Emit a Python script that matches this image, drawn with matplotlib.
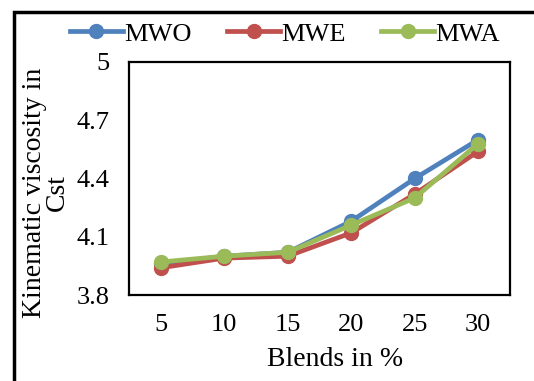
import numpy as np
import matplotlib
matplotlib.use('Agg')
import matplotlib.pyplot as plt
import matplotlib.patches as mpatches

# ── Data ───────────────────────────────────────────────────────────────────
blends = ['5', '10', '15', '20', '25', '30']
mwo = [3.96, 4.00, 4.02, 4.18, 4.40, 4.60]
mwe = [3.94, 3.99, 4.00, 4.12, 4.32, 4.54]
mwa = [3.97, 4.00, 4.02, 4.16, 4.30, 4.58]
y_ticks = [3.8, 4.1, 4.4, 4.7, 5.0]
y_tick_labels = ['3.8', '4.1', '4.4', '4.7', '5']

plt.rcParams['font.family'] = ['Liberation Serif', 'DejaVu Serif']

fig = plt.figure(figsize=(5.34, 3.81), dpi=100)
fig.patch.set_facecolor('white')
ax = fig.add_axes([0.2416, 0.2257, 0.7134, 0.6116])

x = np.arange(len(blends))
series = [('MWO', mwo, '#4F81BD'), ('MWE', mwe, '#C0504D'), ('MWA', mwa, '#9BBB59')]
for name, vals, col in series:
    ax.plot(x, vals, color=col, lw=3.4, marker='o', markersize=10,
            markeredgecolor=col, label=name)

ax.set_xlim(-0.5, len(blends) - 0.5)
ax.set_ylim(3.8, 5.0)
ax.set_xticks(x)
ax.set_xticklabels(blends)
ax.set_yticks(y_ticks)
ax.set_yticklabels(y_tick_labels)
ax.tick_params(axis='both', length=0, labelsize=19)
ax.tick_params(axis='x', pad=14)
ax.tick_params(axis='y', pad=14)
for s in ax.spines.values():
    s.set_linewidth(1.6)
    s.set_color('black')

fig.text(335 / 534, 1 - 360 / 381, 'Blends in %', ha='center', va='center', fontsize=20)
fig.text(46 / 534, 1 - 193 / 381, 'Kinematic viscosity in\nCst', ha='center', va='center',
         rotation=90, fontsize=20, linespacing=0.85)

fig.legend(loc='center', bbox_to_anchor=(285 / 534, 1 - 34 / 381), ncol=3,
           frameon=False, fontsize=19, handlelength=2.0, handletextpad=0.05,
           columnspacing=1.35, borderpad=0)

# outer frame (runs off the right and bottom edges)
fig.patches.append(mpatches.Rectangle((14 / 534, -0.1), 1.2, 1 - 12 / 381 + 0.1,
                                      transform=fig.transFigure, fill=False,
                                      edgecolor='black', lw=2.5))

fig.savefig('out.png', dpi=100, facecolor='white')
